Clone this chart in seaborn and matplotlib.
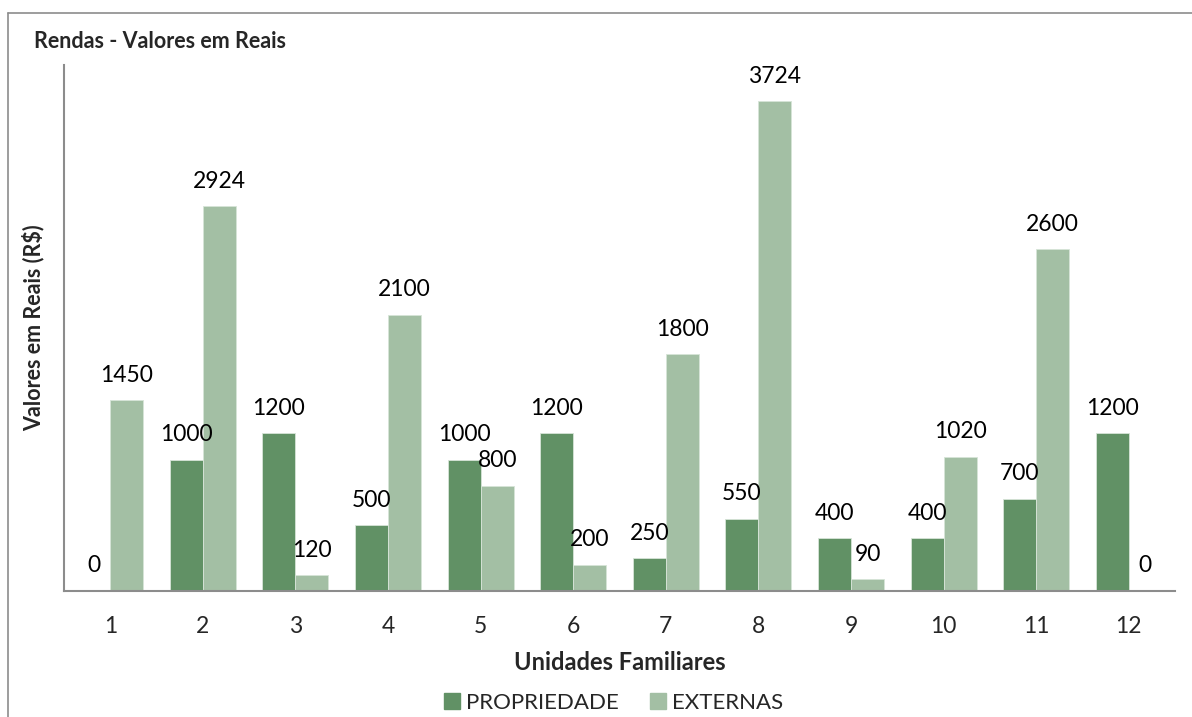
import matplotlib
matplotlib.use("Agg")
import matplotlib.pyplot as plt
import seaborn as sns
import pandas as pd
from matplotlib.lines import Line2D

unidades = ["1", "2", "3", "4", "5", "6", "7", "8", "9", "10", "11", "12"]
propriedade = [0, 1000, 1200, 500, 1000, 1200, 250, 550, 400, 400, 700, 1200]
externas = [1450, 2924, 120, 2100, 800, 200, 1800, 3724, 90, 1020, 2600, 0]
series_names = ["PROPRIEDADE", "EXTERNAS"]
colors = ["#619165", "#a3bfa4"]

df = pd.DataFrame({
    "Unidade": unidades * 2,
    "Valor": propriedade + externas,
    "Serie": [series_names[0]] * len(unidades) + [series_names[1]] * len(unidades),
})

sns.set_theme(style="white")
plt.rcParams["font.family"] = ["Lato", "DejaVu Sans"]

fig = plt.figure(figsize=(11.92, 7.17), dpi=100)
ax = fig.add_axes([64 / 1192, 1 - 591 / 717, (1175 - 64) / 1192, (591 - 65) / 717])

sns.barplot(data=df, x="Unidade", y="Valor", hue="Serie", palette=colors,
            width=0.713, saturation=1, ax=ax, legend=False,
            edgecolor="#d7e4d8", linewidth=0.6)

for container in ax.containers:
    for bar in container:
        h = bar.get_height()
        ax.annotate(f"{int(round(h))}", (bar.get_x() + bar.get_width() / 2, h),
                    xytext=(0, 10.5), textcoords="offset points",
                    ha="center", va="bottom", fontsize=16.5, color="black")

ax.set_ylim(0, 4000)
ax.set_xlim(-0.5, len(unidades) - 0.5)
ax.set_yticks([])
ax.tick_params(axis="x", length=0, pad=18, labelsize=16.5)
for s in ["top", "right"]:
    ax.spines[s].set_visible(False)
for s in ["left", "bottom"]:
    ax.spines[s].set_color("#8c8c8c")
    ax.spines[s].set_linewidth(1.5)

ax.set_xlabel("Unidades Familiares", fontsize=17, fontweight="bold", labelpad=10)
ax.set_ylabel("Valores em Reais (R$)", fontsize=15.5, fontweight="bold", labelpad=14)

fig.text(34 / 1192, 1 - 41 / 717, "Rendas - Valores em Reais", fontsize=15.5,
         fontweight="bold", va="center", ha="left")

handles = [Line2D([0], [0], marker="s", linestyle="", markersize=11,
                  markerfacecolor=c, markeredgecolor=c) for c in colors]
fig.legend(handles, series_names, loc="center", bbox_to_anchor=(612 / 1192, 1 - 703 / 717),
           ncol=2, frameon=False, fontsize=16, handletextpad=0.1, columnspacing=1.3,
           handlelength=1.0)

fig.add_artist(Line2D([8 / 1192, 8 / 1192], [0, 1 - 13 / 717], transform=fig.transFigure,
                      color="#8c8c8c", linewidth=1.2))
fig.add_artist(Line2D([8 / 1192, 1], [1 - 13 / 717, 1 - 13 / 717], transform=fig.transFigure,
                      color="#8c8c8c", linewidth=1.2))

fig.savefig("out.png", dpi=100, facecolor="white")
